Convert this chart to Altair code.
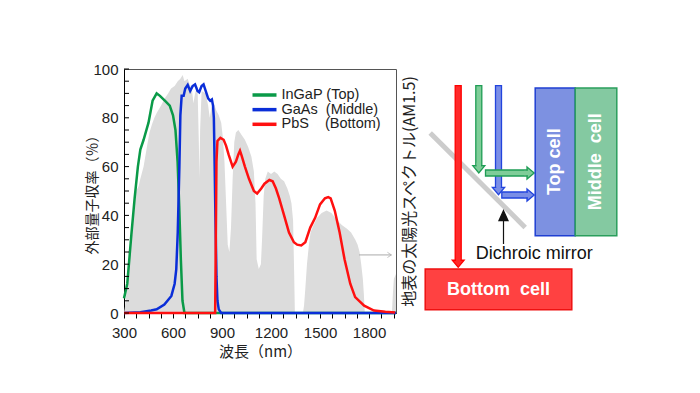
import altair as alt
import pandas as pd

JP = "Noto Sans CJK JP"
EN = "Liberation Sans"

# ---------------- EQE curves (wavelength nm -> EQE %) ----------------
ingap_wl = [300, 320, 345, 365, 385, 400, 420, 450, 475, 500, 520, 550, 580, 600, 615, 628, 638, 648, 658, 670, 700, 1965]
ingap_eqe = [6, 12, 32, 47, 60, 67, 71, 78, 87, 90, 89, 87, 85, 81, 75, 62, 44, 22, 5, 0, 0, 0]

gaas_wl = [300, 400, 466, 500, 547, 590, 610, 620, 629, 639, 645, 653, 665, 675, 690, 705, 720, 735, 750, 760, 775, 787,
           800, 815, 828, 838, 845, 850, 855, 860, 866, 872, 880, 895, 1965]
gaas_eqe = [0, 0.3, 1, 1.5, 3.5, 7, 12, 18, 33, 60, 81, 89, 89, 92, 93.5, 91, 93, 93.7, 91, 90.5, 93, 93.7,
            91, 88, 87, 87.5, 85, 80, 60, 38, 15, 5, 1.5, 0, 0]

pbs_wl = [300, 858, 862, 866, 872, 890, 910, 925, 940, 965, 985, 1000, 1010, 1020, 1040, 1065, 1095, 1115, 1140, 1160,
          1190, 1210, 1230, 1250, 1280, 1310, 1340, 1360, 1385, 1410, 1440, 1470, 1500, 1530, 1550, 1565, 1590, 1620,
          1650, 1685, 1715, 1770, 1830, 1900, 1960]
pbs_eqe = [0, 0, 30, 62, 70.5, 71.8, 71, 68.5, 65, 60, 62, 65, 66.5, 64.5, 60, 55, 50, 49, 51, 53,
           54.5, 54, 51, 47, 40, 33, 29, 28, 27.7, 29, 35, 39, 44.5, 47, 47.5, 47, 42, 33,
           22, 12, 6.5, 3, 1, 0.5, 0.2]

# ---------------- AM1.5 solar spectrum (scaled, grey) ----------------
am15_wl = [300, 305, 310, 315, 320, 330, 340, 350, 360, 375, 390, 400, 420, 440, 456, 470, 486, 500, 527, 550, 570,
           588, 610, 629, 645, 659, 670, 690, 700, 715, 725, 735, 750, 758, 762, 766, 775, 800, 815, 825, 835, 850,
           865, 880, 895, 905, 915, 925, 935, 945, 955, 965, 975, 985, 1000, 1020, 1040, 1060, 1080, 1095, 1105,
           1112, 1125, 1138, 1145, 1155, 1165, 1180, 1200, 1220, 1240, 1260, 1280, 1300, 1315, 1325, 1335, 1342,
           1346, 1395, 1402, 1410, 1420, 1432, 1442, 1460, 1482, 1510, 1540, 1570, 1604, 1635, 1665, 1690, 1716,
           1730, 1742, 1752, 1762, 1768, 1774, 1940, 1946, 1952, 1965]
am15_val = [0, 2, 5, 9, 14, 22, 30, 38, 45, 50, 52, 55, 60, 68, 74, 77, 80, 82, 85, 88, 90,
            92, 93, 95, 96, 97.5, 95, 96, 94, 92, 86, 90, 93, 70, 55, 75, 91, 90, 85, 80, 84, 86,
            83, 81, 78, 72, 62, 45, 28, 25, 35, 55, 70, 74, 75, 73, 71, 68, 64, 58, 45,
            22, 18, 20, 30, 48, 55, 58, 57, 58, 57, 55, 54, 51, 48, 45, 38, 15,
            0, 0, 3, 10, 20, 28, 33, 36, 39, 41, 42, 41, 38, 36, 34.5, 33, 30,
            28, 25, 20, 14, 8, 0, 0, 8, 14, 16]

series_names = ["InGaP (Top)", "GaAs\u00a0\u00a0(Middle)", "PbS\u00a0\u00a0\u00a0\u00a0(Bottom)"]
series_colors = ["#0a9a48", "#0a2ed8", "#ff1010"]

x_tick_values = list(range(300, 1951, 75))
y_label_values = [0, 20, 40, 60, 80, 100]
y_tick_values = list(range(0, 101, 5))

grey_arrow_wl = [1739, 1937]
grey_arrow_level = 23.8

# ---------------- Diagram (schematic units) ----------------
cell_names = ["Top cell", "Middle\u00a0\u00a0cell", "Bottom\u00a0\u00a0cell"]
cell_x0 = [536.7, 576.7, 426.7]
cell_x1 = [576.7, 618.3, 573.3]
cell_y0 = [87.3, 87.3, 268.3]
cell_y1 = [235.0, 235.0, 309.0]
cell_fill = ["#7d91e1", "#84c9a1", "#ff4141"]
cell_stroke = ["#1f3fd2", "#2a9e5c", "#ee1111"]
cell_text_x = [556.7, 597.3, 500.0]
cell_text_y = [161.0, 161.0, 289.0]
cell_text_angle = [270, 270, 0]

# arrow shafts (id, direction, x0, x1, y0, y1)
shaft_id = ["r", "g", "b", "g", "b"]
shaft_dir = ["down", "down", "down", "right", "right"]
shaft_x0 = [456.7, 477.3, 497.0, 487.0, 503.3]
shaft_x1 = [462.7, 483.3, 503.0, 528.5, 528.5]
shaft_y0 = [85.0, 85.0, 85.0, 169.3, 191.3]
shaft_y1 = [259.5, 165.0, 186.7, 175.3, 197.3]
# arrow heads (id, shape, centre x, centre y, size)
head_id = ["r", "g", "b", "g", "b", "k"]
head_shape = ["M-1,-0.6L1,-0.6L0,0.6Z"] * 3 + ["M-0.6,-1L0.6,0L-0.6,1Z"] * 2 + ["M0,-1L0.9,1L-0.9,1Z"]
head_x = [459.7, 480.3, 500.0, 532.1, 532.1, 505.0]
head_y = [263.1, 168.6, 190.3, 172.3, 194.3, 215.0]
head_size = [140, 144, 150, 144, 144, 100]
arrow_fill = {"r": "#ff2a2a", "g": "#7fcd98", "b": "#7a8ee6", "k": "#111111"}
arrow_stroke = {"r": "#ff0000", "g": "#1f9d55", "b": "#2244dd", "k": "#111111"}

mirror_xy = [431.7, 132.3, 526.7, 226.7]
pointer_xy = [505.0, 219.0, 243.3]
mirror_label = "Dichroic mirror"
mirror_label_xy = [535.8, 253.5]

# ---------------- Left chart ----------------
W, H = 272, 244
xscale = alt.Scale(domain=[300, 1965], nice=False, zero=False)
yscale = alt.Scale(domain=[0, 100], nice=False, zero=False)

x_axis = alt.Axis(values=x_tick_values, labelExpr="datum.value % 300 === 0 ? datum.label : ''", format="d",
                  tickSize=5, tickColor="black", domainColor="black", labelFontSize=15, labelPadding=7,
                  labelFlush=False, labelOverlap=False, grid=False, labelColor="#222",
                  title="波長（nm）", titleFont=JP, titleFontSize=15, titleFontWeight="normal",
                  titlePadding=4, titleColor="#222")
y_axis = alt.Axis(values=y_label_values, ticks=False, labelPadding=6, labelFontSize=15, labelFlush=False,
                  domainColor="black", grid=False, labelColor="#222",
                  title="外部量子収率（％）", titleFont=JP, titleFontSize=14, titleFontWeight="normal",
                  titleX=-32, titleBaseline="middle", titleColor="#222")
r_axis = alt.Axis(orient="right", ticks=False, labels=False, domain=False, grid=False,
                  title="地表の太陽光スペクトル(AM1.5)", titleFont=JP, titleFontSize=16, titleFontWeight="normal",
                  titleAngle=270, titleBaseline="middle", titleX=13, titleColor="#222")

X = alt.X("wl:Q", scale=xscale, axis=x_axis)
Y = alt.Y("v:Q", scale=yscale, axis=y_axis)

gray_df = pd.DataFrame({"wl": am15_wl, "v": am15_val})
gray = alt.Chart(gray_df).mark_area(color="#dcdcdc").encode(
    x=X, y=alt.Y("v:Q", scale=yscale, axis=r_axis))

line_layers = []
for wl, val, col in [(ingap_wl, ingap_eqe, series_colors[0]), (gaas_wl, gaas_eqe, series_colors[1]),
                     (pbs_wl, pbs_eqe, series_colors[2])]:
    df = pd.DataFrame({"wl": wl, "v": val})
    line_layers.append(alt.Chart(df).mark_line(color=col, strokeWidth=2.5).encode(x=X, y=Y))

yticks = alt.Chart(pd.DataFrame({"v": y_tick_values})).mark_rule(color="black", strokeWidth=1).encode(
    y=Y, x=alt.value(0), x2=alt.value(5))

arrow_df = pd.DataFrame({"wl": [grey_arrow_wl[0]], "wl2": [grey_arrow_wl[1]], "v": [grey_arrow_level]})
garrow = alt.Chart(arrow_df).mark_rule(color="#aaaaaa", strokeWidth=1).encode(x=X, x2="wl2:Q", y=Y)
ghead_df = pd.DataFrame({"wl": [grey_arrow_wl[1]], "v": [grey_arrow_level]})
ghead = alt.Chart(ghead_df).mark_point(shape="M-1,-0.65L0,0L-1,0.65", size=64, filled=False,
                                        color="#aaaaaa", strokeWidth=1).encode(x=X, y=Y)

legend_layers = []
for i, (name, col) in enumerate(zip(series_names, series_colors)):
    ly = 26 + 14.65 * i
    legend_layers.append(alt.Chart().mark_rule(color=col, strokeWidth=3.5).encode(
        x=alt.value(128.5), x2=alt.value(152.5), y=alt.value(ly)))
    legend_layers.append(alt.Chart().mark_text(align="left", baseline="middle", fontSize=14.5, font=EN,
                                               color="#222").encode(
        x=alt.value(157.5), y=alt.value(ly), text=alt.value(name)))

inner = alt.layer(*line_layers, yticks, garrow, ghead, *legend_layers)
left = alt.layer(gray, inner).resolve_scale(y="independent").properties(
    width=W, height=H, view=alt.ViewBackground(stroke="#555555", strokeWidth=1))

# ---------------- Diagram ----------------
D_X0, DW = 423.5, 205
xs_d = alt.Scale(domain=[D_X0, D_X0 + DW], nice=False, zero=False)
ys_d = alt.Scale(domain=[312.3, 68.3], nice=False, zero=False)

cells = pd.DataFrame({"name": cell_names, "x0": cell_x0, "x1": cell_x1, "y0": cell_y0, "y1": cell_y1,
                      "fill": cell_fill, "stroke": cell_stroke, "tx": cell_text_x, "ty": cell_text_y,
                      "ang": cell_text_angle})

shafts = pd.DataFrame({"id": shaft_id, "dir": shaft_dir, "x0": shaft_x0, "x1": shaft_x1,
                       "y0": shaft_y0, "y1": shaft_y1})
shafts["fill"] = shafts["id"].map(arrow_fill)
shafts["stroke"] = shafts["id"].map(arrow_stroke)
# fill-only patches that hide the seam between shaft and head
is_down = shafts["dir"] == "down"
covers = shafts.copy()
covers.loc[is_down, "x0"] = shafts.loc[is_down, "x0"] + 0.8
covers.loc[is_down, "x1"] = shafts.loc[is_down, "x1"] - 0.8
covers.loc[is_down, "y0"] = shafts.loc[is_down, "y1"] - 3
covers.loc[is_down, "y1"] = shafts.loc[is_down, "y1"] + 1.5
covers.loc[~is_down, "x0"] = shafts.loc[~is_down, "x1"] - 3
covers.loc[~is_down, "x1"] = shafts.loc[~is_down, "x1"] + 1.5
covers.loc[~is_down, "y0"] = shafts.loc[~is_down, "y0"] + 0.8
covers.loc[~is_down, "y1"] = shafts.loc[~is_down, "y1"] - 0.8

heads = pd.DataFrame({"id": head_id, "shape": head_shape, "x": head_x, "y": head_y, "s": head_size})
heads["fill"] = heads["id"].map(arrow_fill)
heads["stroke"] = heads["id"].map(arrow_stroke)

mirror = alt.Chart(pd.DataFrame({"x": [mirror_xy[0]], "y": [mirror_xy[1]], "x2": [mirror_xy[2]],
                                 "y2": [mirror_xy[3]]})).mark_rule(color="#cccccc", strokeWidth=5).encode(
    x=alt.X("x:Q", scale=xs_d, axis=None), y=alt.Y("y:Q", scale=ys_d, axis=None), x2="x2:Q", y2="y2:Q")

head_layer = alt.Chart(heads).mark_point(filled=True, strokeWidth=1.3, opacity=1).encode(
    x=alt.X("x:Q", scale=xs_d, axis=None), y=alt.Y("y:Q", scale=ys_d, axis=None),
    shape=alt.Shape("shape:N", scale=None), size=alt.Size("s:Q", scale=None),
    fill=alt.Fill("fill:N", scale=None), stroke=alt.Stroke("stroke:N", scale=None))

shaft_layer = alt.Chart(shafts).mark_rect(strokeWidth=1.3).encode(
    x=alt.X("x0:Q", scale=xs_d, axis=None), x2="x1:Q", y=alt.Y("y0:Q", scale=ys_d, axis=None), y2="y1:Q",
    fill=alt.Fill("fill:N", scale=None), stroke=alt.Stroke("stroke:N", scale=None))

cover_layer = alt.Chart(covers).mark_rect(strokeWidth=0).encode(
    x=alt.X("x0:Q", scale=xs_d, axis=None), x2="x1:Q", y=alt.Y("y0:Q", scale=ys_d, axis=None), y2="y1:Q",
    fill=alt.Fill("fill:N", scale=None))

pointer = alt.Chart(pd.DataFrame({"x": [pointer_xy[0]], "y": [pointer_xy[1]], "y2": [pointer_xy[2]]})).mark_rule(
    color="#111111", strokeWidth=1.2).encode(
    x=alt.X("x:Q", scale=xs_d, axis=None), y=alt.Y("y:Q", scale=ys_d, axis=None), y2="y2:Q")

boxes = alt.Chart(cells).mark_rect(strokeWidth=1.5).encode(
    x=alt.X("x0:Q", scale=xs_d, axis=None), x2="x1:Q", y=alt.Y("y0:Q", scale=ys_d, axis=None), y2="y1:Q",
    fill=alt.Fill("fill:N", scale=None), stroke=alt.Stroke("stroke:N", scale=None))

box_text = alt.Chart(cells).mark_text(color="white", fontWeight="bold", fontSize=18, font=EN,
                                      align="center", baseline="middle").encode(
    x=alt.X("tx:Q", scale=xs_d, axis=None), y=alt.Y("ty:Q", scale=ys_d, axis=None),
    text="name:N", angle=alt.Angle("ang:Q", scale=None))

mlabel = alt.Chart(pd.DataFrame({"x": [mirror_label_xy[0]], "y": [mirror_label_xy[1]], "t": [mirror_label]})).mark_text(
    fontSize=18, font=EN, color="#111111", align="center", baseline="middle").encode(
    x=alt.X("x:Q", scale=xs_d, axis=None), y=alt.Y("y:Q", scale=ys_d, axis=None), text="t:N")

diagram = alt.layer(mirror, pointer, head_layer, shaft_layer, cover_layer, boxes, box_text, mlabel).properties(
    width=DW, height=H, view=alt.ViewBackground(stroke="transparent"))

chart = alt.hconcat(left, diagram, spacing=3).properties(
    padding={"left": 76, "top": 53, "right": 5, "bottom": 5}
).configure(font=EN).configure_axis(labelFont=EN)

chart.save("out.html", embed_options={"renderer": "svg", "actions": False})
